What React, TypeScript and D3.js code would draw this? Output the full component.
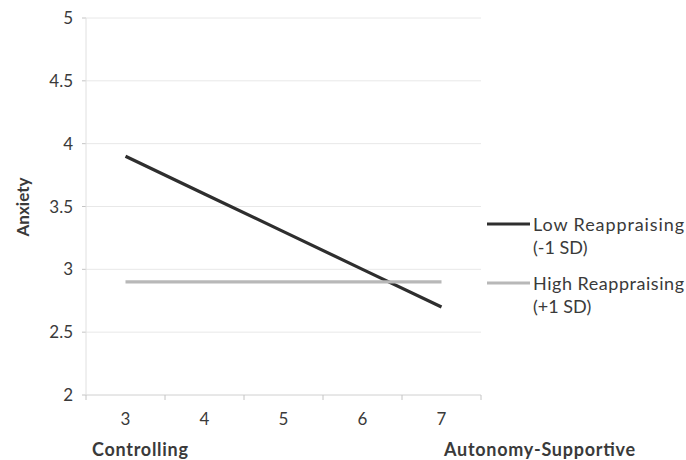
import React from "react";
import * as d3 from "d3";

const categories = ["3", "4", "5", "6", "7"];
const lowReappraising = [3.9, 3.6, 3.3, 3.0, 2.7];
const highReappraising = [2.9, 2.9, 2.9, 2.9, 2.9];
const yTicks = [2, 2.5, 3, 3.5, 4, 4.5, 5];
const series = [
  { name: ["Low Reappraising", "(-1 SD)"], values: lowReappraising, color: "#2e2e2e" },
  { name: ["High Reappraising", "(+1 SD)"], values: highReappraising, color: "#b8b8b8" },
];

export default function App() {
  const W = 686, H = 460;
  const x = d3.scaleBand().domain(categories).range([86, 481]);
  const y = d3.scaleLinear().domain([2, 5]).range([395, 18]);
  const line = d3
    .line<number>()
    .x((_, i) => (x(categories[i]) as number) + x.bandwidth() / 2)
    .y((d) => y(d));
  const font = "Lato, 'Open Sans', sans-serif";
  const boundaries = [...categories.map((c) => x(c) as number), 481];
  const tc = "#3a3a3a";
  return (
    <svg width={W} height={H} style={{ position: "absolute", left: 0, top: 0, background: "#fff" }} fontFamily={font}>
      {yTicks.map((t) => (
        <g key={t}>
          <line x1={86} x2={481} y1={y(t)} y2={y(t)} stroke="#e8e8e8" strokeWidth={1} />
          <line x1={82} x2={86} y1={y(t)} y2={y(t)} stroke="#c4c4c4" strokeWidth={1} />
          <text x={73} y={y(t) + 6} textAnchor="end" fontSize={17} fill={tc}>
            {String(t)}
          </text>
        </g>
      ))}
      <line x1={86} x2={86} y1={18} y2={395} stroke="#e0e0e0" strokeWidth={1} />
      <line x1={86} x2={481} y1={395} y2={395} stroke="#dcdcdc" strokeWidth={1} />
      {boundaries.map((b, i) => (
        <line key={i} x1={b} x2={b} y1={395} y2={400} stroke="#c4c4c4" strokeWidth={1} />
      ))}
      {categories.map((c) => (
        <text key={c} x={(x(c) as number) + x.bandwidth() / 2} y={425} textAnchor="middle" fontSize={17} fill={tc}>
          {c}
        </text>
      ))}
      <text transform={`translate(29,207) rotate(-90)`} textAnchor="middle" fontSize={17} fontWeight="bold" fill={tc}>
        Anxiety
      </text>
      <text x={92} y={456} fontSize={18} fontWeight="bold" fill={tc} textLength={96}>Controlling</text>
      <text x={444} y={456} fontSize={18} fontWeight="bold" fill={tc} textLength={191}>Autonomy-Supportive</text>
      {series.map((s) => (
        <path key={s.name[0]} d={line(s.values) as string} fill="none" stroke={s.color} strokeWidth={3.2} />
      ))}
      {series.map((s, i) => {
        const ly = i === 0 ? 224 : 283;
        return (
          <g key={s.name[0]}>
            <line x1={487} x2={530} y1={ly} y2={ly} stroke={s.color} strokeWidth={3} />
            <text x={533} y={ly + 6.5} fontSize={18} fill={tc} textLength={151}>{s.name[0]}</text>
            <text x={533} y={ly + 29.5} fontSize={18} fill={tc}>{s.name[1]}</text>
          </g>
        );
      })}
    </svg>
  );
}
